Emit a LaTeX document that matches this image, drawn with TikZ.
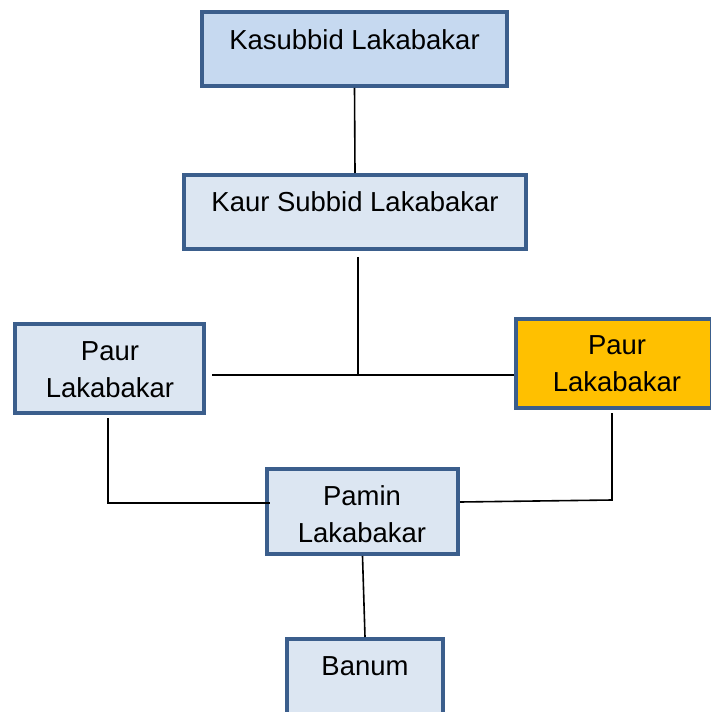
\documentclass[tikz,border=0pt]{standalone}
\usepackage{fontspec}
\setmainfont{Liberation Sans}
\definecolor{bordc}{HTML}{3B5E8C}
\definecolor{fillA}{HTML}{C6D9F0}
\definecolor{fillB}{HTML}{DCE6F2}
\definecolor{fillO}{HTML}{FFC000}
\begin{document}
\begin{tikzpicture}[x=0.75pt,y=-0.75pt,
  box/.style={draw=bordc,line width=3pt,inner sep=0pt,fill=fillB},
  lbl/.style={align=center,inner sep=0pt,font=\fontsize{20.6}{27.7}\selectfont},
  conn/.style={draw=black,line width=1.2pt}]
\useasboundingbox (0,0) rectangle (710,712);
% boxes
\node[box,fill=fillA,minimum width=305*0.75pt,minimum height=74*0.75pt] (k1) at (354.5,49) {};
\node[box,minimum width=342*0.75pt,minimum height=74*0.75pt] (k2) at (355,212) {};
\node[box,minimum width=189*0.75pt,minimum height=89*0.75pt] (pl) at (109.5,368.5) {};
\node[box,fill=fillO,minimum width=196*0.75pt,minimum height=89*0.75pt] (pr) at (614,363.5) {};
\node[box,minimum width=191*0.75pt,minimum height=85*0.75pt] (pm) at (362.5,511.5) {};
\node[box,minimum width=156*0.75pt,minimum height=84*0.75pt] (bn) at (365,681) {};
% texts
\node[lbl] (t1) at (354.5,40) {Kasubbid Lakabakar};
\node[lbl] (t2) at (355,202) {Kaur Subbid Lakabakar};
\node[lbl] (t3) at (110,369.5) {Paur\\Lakabakar};
\node[lbl] (t4) at (617,364) {Paur\\Lakabakar};
\node[lbl] (t5) at (362,514.5) {Pamin\\Lakabakar};
\node[lbl] (t6) at (365,666) {Banum};
% connector points
\coordinate (j) at (358,375);
\coordinate (a) at (358,257);
\coordinate (b) at (212,375);
\coordinate (c1) at (108,418);
\coordinate (c2) at (108,503);
\coordinate (c3) at (270,503);
\coordinate (d1) at (612,413);
\coordinate (d2) at (612,500);
\coordinate (d3) at (460,502);
% connectors
\draw[conn] (k1.south) -- (k2.north);
\draw[conn] (a) -- (j);
\draw[conn] (b) -- (pr.west |- j);
\draw[conn] (c1) -- (c2) -- (c3);
\draw[conn] (d1) -- (d2) -- (d3);
\draw[conn] (pm.south) -- (bn.north);
\end{tikzpicture}
\end{document}
